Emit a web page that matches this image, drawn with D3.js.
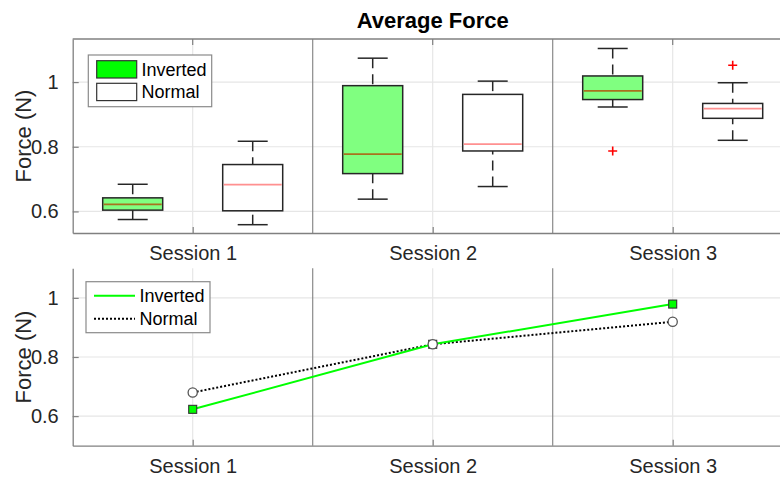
<!DOCTYPE html>
<html><head><meta charset="utf-8">
<script src="https://cdn.jsdelivr.net/npm/d3@7"></script>
<style>body{margin:0;background:#fff}svg{display:block;font-family:"Liberation Sans",Arial,sans-serif}</style>
</head><body><svg id="c" width="780" height="477"></svg>
<script>
// ---- data ----
const sessions = ["Session 1", "Session 2", "Session 3"];
const seriesNames = ["Inverted", "Normal"];
// boxplot stats (lower whisker, Q1, median, Q3, upper whisker)
const invLow  = [0.575, 0.638, 0.923];
const invQ1   = [0.604, 0.717, 0.946];
const invMed  = [0.622, 0.777, 0.973];
const invQ3   = [0.642, 0.989, 1.019];
const invHigh = [0.684, 1.074, 1.104];
const norLow  = [0.559, 0.677, 0.820];
const norQ1   = [0.602, 0.787, 0.888];
const norMed  = [0.683, 0.808, 0.918];
const norQ3   = [0.745, 0.962, 0.934];
const norHigh = [0.817, 1.003, 0.998];
const invOutliers = [[], [], [0.787]];
const norOutliers = [[], [], [1.052]];
// means (line plot)
const invMean = [0.623, 0.843, 0.979];
const norMean = [0.680, 0.843, 0.919];
const yTicks = [0.6, 0.8, 1];

// ---- layout ----
const svg = d3.select("#c");
const L = 72.7, R = 792.7;
const x = d3.scaleLinear().domain([0.5, 3.5]).range([L, R]);
const yTop = d3.scaleLinear().domain([0.5333, 1.1333]).range([233, 39]);
const yBot = d3.scaleLinear().domain([0.5, 1.1]).range([445.7, 268.3]);
const axisCol = "#808080", textCol = "#262626";

function frame(y, boxTop) {
  const g = svg.append("g");
  const [y0, y1] = y.range();
  // grid
  g.selectAll(".gy").data(yTicks).join("line")
    .attr("x1", L).attr("x2", R).attr("y1", d => y(d)).attr("y2", d => y(d))
    .attr("stroke", "#e6e6e6").attr("stroke-width", 1.2);
  g.selectAll(".gx").data([1, 2, 3]).join("line")
    .attr("x1", d => x(d)).attr("x2", d => x(d)).attr("y1", y0).attr("y2", y1)
    .attr("stroke", "#e6e6e6").attr("stroke-width", 1.2);
  // separators
  g.selectAll(".sep").data([1.5, 2.5]).join("line")
    .attr("x1", d => x(d)).attr("x2", d => x(d)).attr("y1", y0).attr("y2", y1)
    .attr("stroke", "#8a8a8a").attr("stroke-width", 1.2);
  // axes
  const ax = d3.axisBottom(x).tickValues([1, 2, 3]).tickFormat((d, i) => sessions[i])
    .tickSizeInner(-6).tickSizeOuter(0).tickPadding(13);
  const ga = g.append("g").attr("transform", `translate(0,${y0})`).call(ax);
  const ay = d3.axisLeft(y).tickValues(yTicks).tickFormat(d => d === 1 ? "1" : d3.format(".1f")(d))
    .tickSizeInner(-6).tickSizeOuter(0).tickPadding(14);
  const gy = g.append("g").attr("transform", `translate(${L},0)`).call(ay);
  [ga, gy].forEach(s => {
    s.select(".domain").attr("stroke", axisCol).attr("stroke-width", 1.3);
    s.selectAll(".tick line").attr("stroke", axisCol).attr("stroke-width", 1.2);
    s.selectAll("text").attr("fill", textCol).style("font-size", "20px")
      .style("font-family", '"Liberation Sans",Arial,sans-serif');
  });
  if (boxTop) {
    g.append("line").attr("x1", L).attr("x2", R).attr("y1", y1).attr("y2", y1)
      .attr("stroke", axisCol).attr("stroke-width", 1.3);
    g.selectAll(".tt").data([1, 2, 3]).join("line")
      .attr("x1", d => x(d)).attr("x2", d => x(d)).attr("y1", y1).attr("y2", y1 + 6)
      .attr("stroke", axisCol).attr("stroke-width", 1.2);
  }
  g.append("text").attr("transform", `translate(31,${(y0 + y1) / 2}) rotate(-90)`)
    .attr("text-anchor", "middle").attr("fill", textCol).style("font-size", "22px").text("Force (N)");
  return g;
}

// ---- top: boxplots ----
const gt = frame(yTop, true);
svg.append("text").attr("x", x(2)).attr("y", 28).attr("text-anchor", "middle")
  .attr("fill", "#000").style("font-size", "22px").style("font-weight", "bold").text("Average Force");

const groups = [
  {low: invLow, q1: invQ1, med: invMed, q3: invQ3, high: invHigh, out: invOutliers, off: -0.5, fill: "#80ff80", medCol: "#a8721e"},
  {low: norLow, q1: norQ1, med: norMed, q3: norQ3, high: norHigh, out: norOutliers, off: 0.5, fill: "#ffffff", medCol: "#ff9090"}
];
const bw = 0.25;
groups.forEach(gr => {
  sessions.forEach((s, i) => {
    const cx = x(i + 1 + gr.off * 0.5);
    const w = x(bw) - x(0);
    const g = gt.append("g");
    // whiskers (dashed, from cap toward box)
    g.append("line").attr("x1", cx).attr("x2", cx).attr("y1", yTop(gr.high[i])).attr("y2", yTop(gr.q3[i]))
      .attr("stroke", "#262626").attr("stroke-width", 1.5).attr("stroke-dasharray", "10,6");
    g.append("line").attr("x1", cx).attr("x2", cx).attr("y1", yTop(gr.low[i])).attr("y2", yTop(gr.q1[i]))
      .attr("stroke", "#262626").attr("stroke-width", 1.5).attr("stroke-dasharray", "10,6");
    [gr.high[i], gr.low[i]].forEach(v => g.append("line")
      .attr("x1", cx - w / 4).attr("x2", cx + w / 4).attr("y1", yTop(v)).attr("y2", yTop(v))
      .attr("stroke", "#262626").attr("stroke-width", 1.5));
    g.append("rect").attr("x", cx - w / 2).attr("width", w)
      .attr("y", yTop(gr.q3[i])).attr("height", yTop(gr.q1[i]) - yTop(gr.q3[i]))
      .attr("fill", gr.fill).attr("stroke", "#262626").attr("stroke-width", 1.5);
    g.append("line").attr("x1", cx - w / 2 + 1).attr("x2", cx + w / 2 - 1)
      .attr("y1", yTop(gr.med[i])).attr("y2", yTop(gr.med[i]))
      .attr("stroke", gr.medCol).attr("stroke-width", 1.8);
    gr.out[i].forEach(v => {
      const py = yTop(v);
      g.append("path").attr("d", `M${cx - 4.5},${py}H${cx + 4.5}M${cx},${py - 4.5}V${py + 4.5}`)
        .attr("stroke", "#ff0000").attr("stroke-width", 1.6).attr("fill", "none");
    });
  });
});

// top legend
const lt = svg.append("g");
lt.append("rect").attr("x", 88.3).attr("y", 55).attr("width", 123.4).attr("height", 51.7)
  .attr("fill", "#fff").attr("stroke", "#8a8a8a").attr("stroke-width", 1.2);
[{fill: "#00ff00", y: 60.7}, {fill: "#ffffff", y: 83.3}].forEach((d, i) => {
  lt.append("rect").attr("x", 96.7).attr("y", d.y).attr("width", 40).attr("height", 17.3)
    .attr("fill", d.fill).attr("stroke", "#333").attr("stroke-width", 1.2);
  lt.append("text").attr("x", 141.5).attr("y", d.y + 15).attr("fill", "#000")
    .style("font-size", "18px").text(seriesNames[i]);
});

// ---- bottom: mean lines ----
const gb = frame(yBot, false);
const line = d3.line().x((d, i) => x(i + 1)).y(d => yBot(d));
gb.append("path").datum(norMean).attr("d", line).attr("fill", "none")
  .attr("stroke", "#000").attr("stroke-width", 2).attr("stroke-dasharray", "2,2");
gb.append("path").datum(invMean).attr("d", line).attr("fill", "none")
  .attr("stroke", "#00ff00").attr("stroke-width", 2);
gb.selectAll(".ms").data(invMean).join("rect")
  .attr("x", (d, i) => x(i + 1) - 4).attr("y", d => yBot(d) - 4).attr("width", 8).attr("height", 8)
  .attr("fill", "#00ff00").attr("stroke", "#333").attr("stroke-width", 1.1);
gb.selectAll(".mc").data(norMean).join("circle")
  .attr("cx", (d, i) => x(i + 1)).attr("cy", d => yBot(d)).attr("r", 4.6)
  .attr("fill", "#fff").attr("stroke", "#555").attr("stroke-width", 1.3);

// bottom legend
const lb = svg.append("g");
lb.append("rect").attr("x", 86).attr("y", 281.7).attr("width", 124).attr("height", 51)
  .attr("fill", "#fff").attr("stroke", "#8a8a8a").attr("stroke-width", 1.2);
lb.append("line").attr("x1", 94).attr("x2", 135).attr("y1", 295.7).attr("y2", 295.7)
  .attr("stroke", "#00ff00").attr("stroke-width", 2);
lb.append("line").attr("x1", 94).attr("x2", 135).attr("y1", 318.7).attr("y2", 318.7)
  .attr("stroke", "#000").attr("stroke-width", 2).attr("stroke-dasharray", "2,2");
[302, 325].forEach((yy, i) => lb.append("text").attr("x", 139.5).attr("y", yy)
  .attr("fill", "#000").style("font-size", "18px").text(seriesNames[i]));
</script></body></html>
